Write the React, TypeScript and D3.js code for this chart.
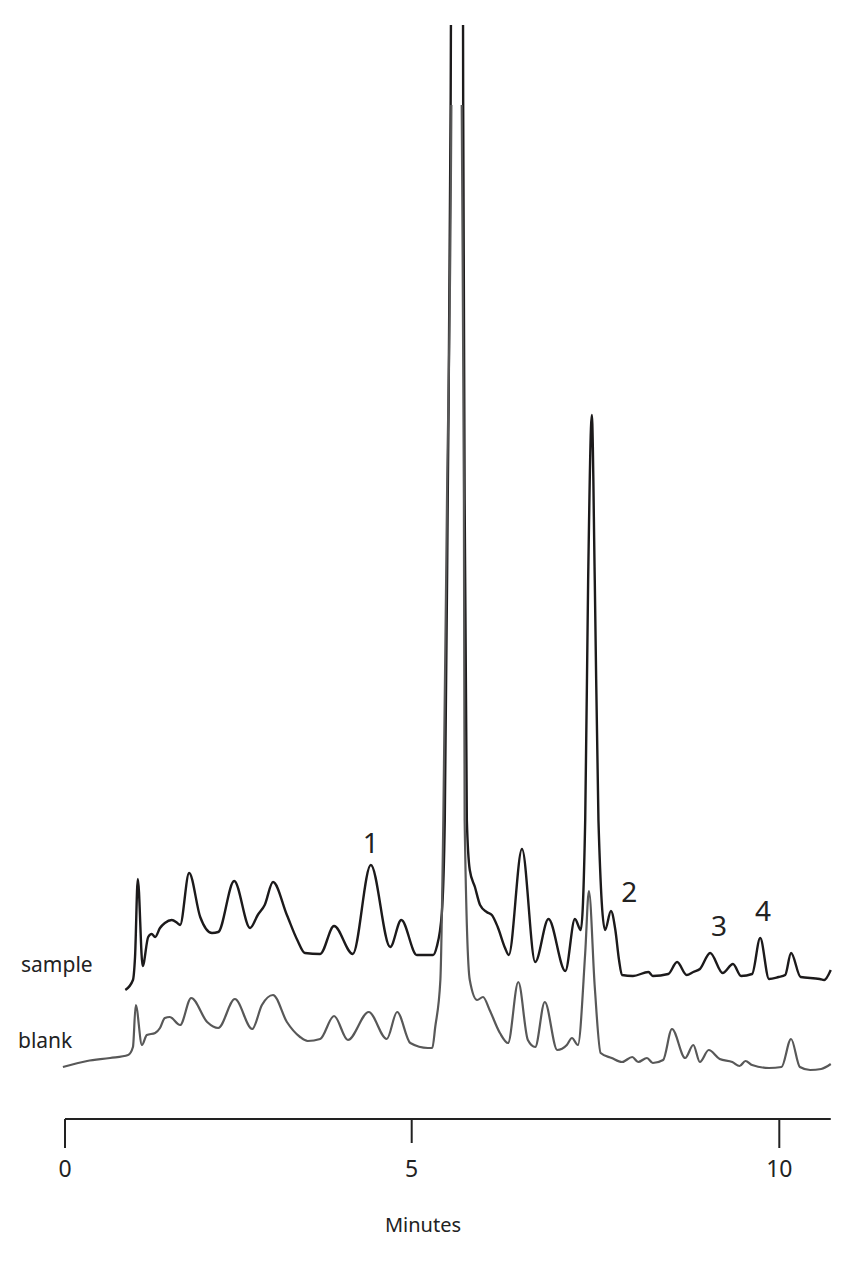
import React from "react";
import * as d3 from "d3";

// Retention time (minutes) and detector signal (arbitrary units)
const sampleTime = [0.87, 0.98, 1.01, 1.05, 1.12, 1.20, 1.25, 1.30, 1.37, 1.44, 1.54, 1.62, 1.66, 1.79, 1.95, 2.12, 2.21, 2.44, 2.67, 2.78, 2.88, 3.00, 3.20, 3.35, 3.46, 3.68, 3.88, 4.15, 4.41, 4.69, 4.85, 5.07, 5.29, 5.34, 5.41, 5.45, 5.49, 5.53, 5.62, 5.70, 5.72, 5.75, 5.79, 5.86, 5.93, 6.02, 6.09, 6.17, 6.27, 6.32, 6.50, 6.68, 6.86, 7.09, 7.22, 7.30, 7.36, 7.40, 7.45, 7.49, 7.54, 7.63, 7.71, 7.77, 7.82, 7.86, 8.01, 8.22, 8.28, 8.49, 8.61, 8.74, 8.83, 8.92, 9.06, 9.23, 9.37, 9.48, 9.63, 9.74, 9.86, 9.99, 10.08, 10.16, 10.29, 10.55, 10.61, 10.70];
const sampleSignal = [11.0, 12.0, 14.3, 22.1, 13.4, 16.3, 16.6, 16.3, 17.2, 17.7, 18.0, 17.7, 17.5, 22.7, 18.3, 16.7, 16.8, 21.9, 17.2, 18.5, 19.5, 21.8, 18.5, 16.0, 14.7, 14.6, 17.4, 14.6, 23.5, 15.3, 18.0, 14.5, 14.5, 15.3, 18.7, 28.0, 60.0, 100.0, 410.0, 100.0, 60.0, 28.0, 23.0, 21.3, 19.5, 18.8, 18.5, 17.3, 15.2, 14.5, 25.1, 13.8, 18.1, 12.9, 18.1, 17.0, 28.0, 52.0, 68.5, 52.0, 28.0, 17.0, 18.9, 17.0, 14.0, 12.5, 12.4, 12.8, 12.4, 12.6, 13.8, 12.5, 12.8, 13.1, 14.7, 12.7, 13.6, 12.4, 12.6, 16.2, 12.1, 12.3, 12.5, 14.7, 12.3, 12.1, 12.0, 13.0];

const blankTime = [-0.03, 0.32, 0.65, 0.91, 0.98, 1.02, 1.11, 1.18, 1.30, 1.37, 1.44, 1.51, 1.66, 1.82, 2.05, 2.21, 2.45, 2.70, 2.84, 3.00, 3.20, 3.39, 3.50, 3.68, 3.88, 4.08, 4.38, 4.64, 4.79, 4.98, 5.22, 5.28, 5.32, 5.39, 5.43, 5.48, 5.54, 5.62, 5.68, 5.71, 5.72, 5.79, 5.89, 5.97, 6.06, 6.20, 6.31, 6.45, 6.58, 6.68, 6.81, 6.98, 7.11, 7.18, 7.26, 7.36, 7.41, 7.49, 7.57, 7.72, 7.86, 8.00, 8.08, 8.20, 8.28, 8.42, 8.54, 8.72, 8.83, 8.92, 9.04, 9.19, 9.36, 9.46, 9.54, 9.63, 9.86, 10.03, 10.16, 10.28, 10.42, 10.57, 10.70];
const blankSignal = [3.3, 3.9, 4.2, 4.5, 5.3, 9.5, 5.5, 6.5, 6.7, 7.2, 8.2, 8.3, 7.5, 10.2, 7.8, 7.2, 10.1, 7.1, 9.5, 10.5, 7.8, 6.3, 5.9, 6.1, 8.4, 6.0, 8.8, 6.1, 8.8, 5.7, 5.2, 5.2, 7.3, 12.0, 28.0, 60.0, 100.0, 310.0, 100.0, 60.0, 28.0, 12.0, 10.0, 10.3, 9.0, 6.7, 5.7, 11.8, 6.0, 5.3, 9.8, 5.0, 5.5, 6.2, 5.5, 14.7, 20.9, 11.3, 4.7, 4.2, 3.8, 4.3, 3.8, 4.2, 3.7, 4.0, 7.1, 4.2, 5.5, 3.8, 5.0, 4.1, 3.8, 3.4, 3.9, 3.5, 3.2, 3.3, 6.1, 3.3, 3.0, 3.1, 3.6];

const tickValues = [0, 5, 10];
const traceNames = ["sample", "blank"];
const peakLabels = ["1", "2", "3", "4"];
const peakLabelTime = [4.41, 7.96, 9.18, 9.78];
const peakLabelSignal = [24.7, 19.8, 16.4, 17.9];
const axisTitle = "Minutes";

const W = 851;
const H = 1280;

export default function App() {
  // polylinear time axis, as in the original scan
  const x = d3.scaleLinear().domain([0, 5, 10]).range([65, 411.7, 779.3]);
  const y = d3.scaleLinear().domain([0, 110]).range([1100, 0]);

  const sample = sampleTime.map((t, i) => [t, sampleSignal[i]] as [number, number]);
  const blank = blankTime.map((t, i) => [t, blankSignal[i]] as [number, number]);

  const line = d3
    .line<[number, number]>()
    .x((d) => x(d[0]))
    .y((d) => y(d[1]))
    .curve(d3.curveMonotoneX);

  const axisY = 1119;
  const axisEnd = 10.7;
  const font = "'Noto Sans', 'DejaVu Sans', sans-serif";

  return (
    <svg
      width={W}
      height={H}
      viewBox={`0 0 ${W} ${H}`}
      style={{ position: "absolute", left: 0, top: 0, background: "#fff" }}
    >
      <defs>
        <clipPath id="clipSample">
          <rect x={0} y={y(107.5)} width={W} height={H} />
        </clipPath>
        <clipPath id="clipBlank">
          <rect x={0} y={y(99.5)} width={W} height={H} />
        </clipPath>
      </defs>

      <path
        d={line(sample) || ""}
        fill="none"
        stroke="#1c1a1b"
        strokeWidth={2.4}
        strokeLinejoin="round"
        clipPath="url(#clipSample)"
      />
      <path
        d={line(blank) || ""}
        fill="none"
        stroke="#585858"
        strokeWidth={2.2}
        strokeLinejoin="round"
        clipPath="url(#clipBlank)"
      />

      {/* trace names */}
      <text x={21} y={972} fontFamily={font} fontSize={21} fill="#222">
        {traceNames[0]}
      </text>
      <text x={18} y={1048} fontFamily={font} fontSize={21} fill="#222">
        {traceNames[1]}
      </text>

      {/* peak numbers */}
      {peakLabels.map((p, i) => (
        <text
          key={p}
          x={x(peakLabelTime[i])}
          y={y(peakLabelSignal[i])}
          textAnchor="middle"
          fontFamily={font}
          fontSize={28}
          fill="#222"
        >
          {p}
        </text>
      ))}

      {/* x axis */}
      <line
        x1={x(0)}
        x2={x(axisEnd)}
        y1={axisY}
        y2={axisY}
        stroke="#222"
        strokeWidth={2}
      />
      {tickValues.map((t) => (
        <g key={t}>
          <line
            x1={x(t)}
            x2={x(t)}
            y1={axisY}
            y2={axisY + (t === 5 ? 24 : 29)}
            stroke="#222"
            strokeWidth={2}
          />
          <text
            x={x(t)}
            y={1177}
            textAnchor="middle"
            fontFamily={font}
            fontSize={23}
            fill="#222"
          >
            {t}
          </text>
        </g>
      ))}
      <text
        x={423}
        y={1232}
        textAnchor="middle"
        fontFamily={font}
        fontSize={20}
        fill="#222"
      >
        {axisTitle}
      </text>
    </svg>
  );
}
